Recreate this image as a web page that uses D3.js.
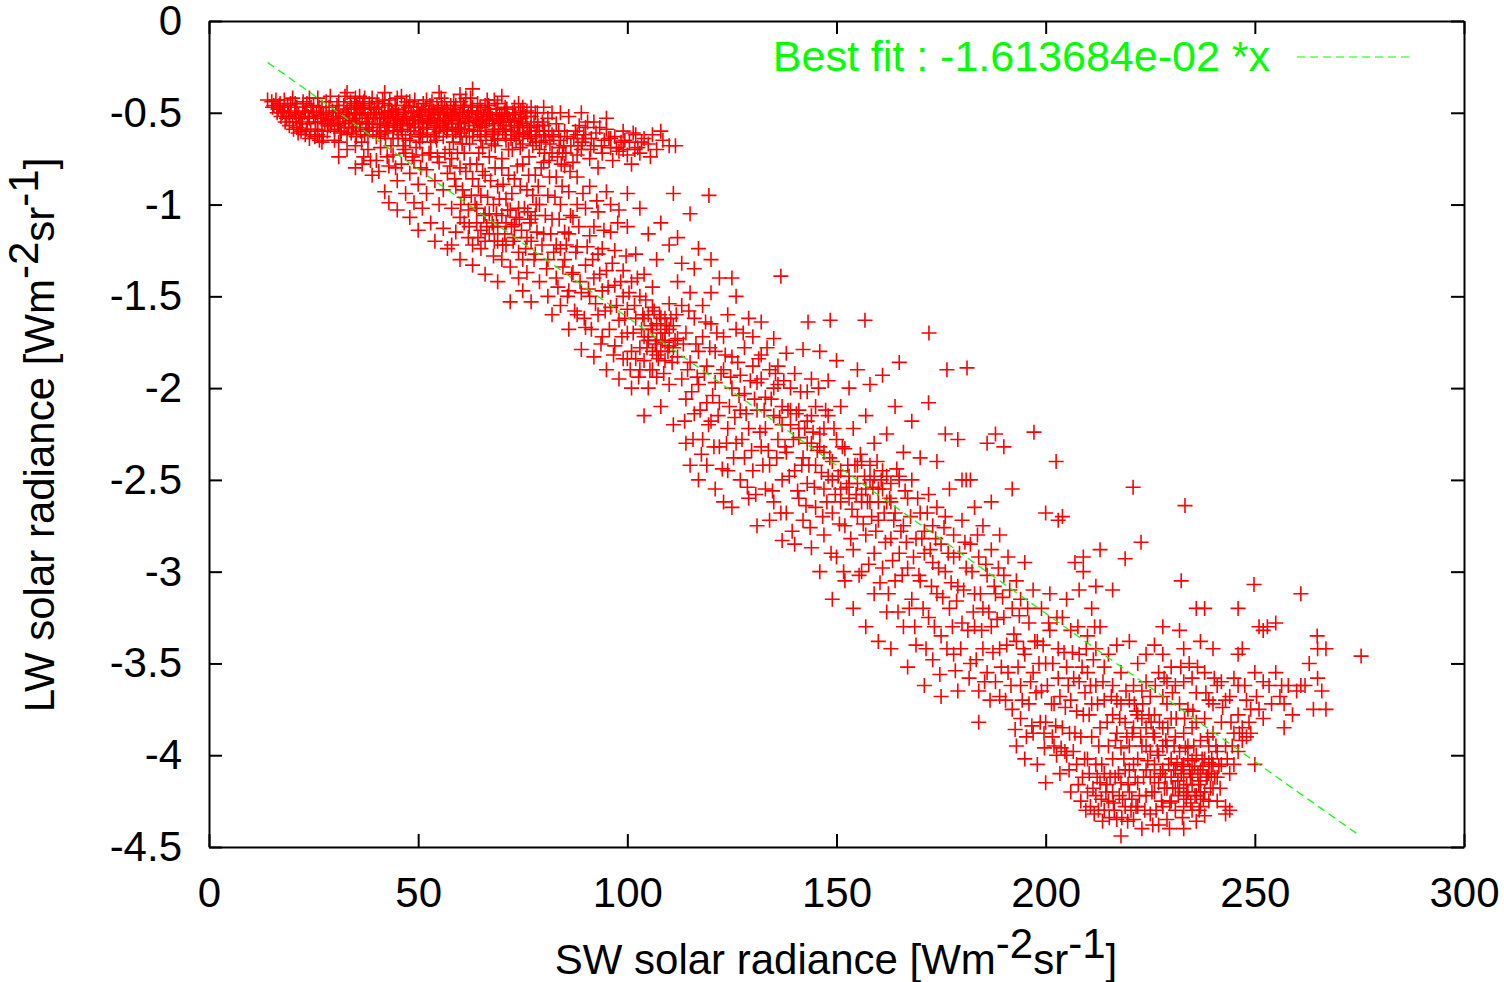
<!DOCTYPE html>
<html>
<head>
<meta charset="utf-8">
<script src="https://d3js.org/d3.v7.min.js"></script>
<style>
  html, body { margin: 0; padding: 0; background: #fff; }
  svg { display: block; }
  text { font-family: "Liberation Sans", Arial, sans-serif; }
</style>
</head>
<body>
<svg id="chart"></svg>
<script>
// tick labels
const xTicks = [0, 50, 100, 150, 200, 250, 300];
const yTicks = [0, -0.5, -1, -1.5, -2, -2.5, -3, -3.5, -4, -4.5];

// fit line
const fitSlope = -1.613684e-02;
const fitRange = [14, 275];
const fitLabel = "Best fit : -1.613684e-02 *x";

// points, [SW, LW]
// the solid wedge top left
const wedge = [
[14,-.43],[15,-.44],[15.5,-.46],[16,-.43],[16.5,-.48],[17,-.45],[17.5,-.5],[18,-.43],[18,-.47],[18.5,-.53],[19,-.5],[19.5,-.45],[20,-.55],[20,-.42],[20.5,-.5],[21,-.58],[21,-.47],[22,-.53],[22,-.6],[22.5,-.44],[23,-.62],[23,-.49],[23.5,-.56],[24,-.64],[24,-.42],[25,-.46],[25,-.52],[25.5,-.59],[26,-.62],[26,-.42],
[27,-.47],[28,-.44],[28.5,-.54],[29,-.41],[29.5,-.49],[30,-.59],[30,-.65],[31,-.44],[32,-.52],[32.5,-.41],[33,-.39],[33,-.62],[34,-.47],[34.5,-.56],[35,-.42],[36,-.5],[36.5,-.66],[37,-.44],[37.5,-.59],[38,-.53],[39,-.42],[39.5,-.48],[40,-.63],[41,-.56],[41.5,-.43],[42,-.51],[43,-.46],[43.5,-.68],[44,-.6],[45,-.42],
[45,-.54],[46,-.41],[46.5,-.49],[47,-.64],[47.5,-.57],[48,-.44],[49,-.52],[49.5,-.69],[50,-.47],[50.5,-.61],[51,-.55],[52,-.43],[52.5,-.5],[53,-.66],[54,-.58],[54.5,-.46],[55,-.53],[55.5,-.42],[56,-.63],[57,-.49],[57.5,-.7],[58,-.56],[58.5,-.44],[59,-.6],[60,-.51],[60.5,-.67],[61,-.47],[62,-.55],[62.5,-.42],[63,-.37],
[63,-.63],[64,-.5],[64.5,-.72],[65,-.58],[66,-.46],[66.5,-.43],[67,-.54],[67.5,-.67],[68,-.61],[69,-.45],[69.5,-.51],[70,-.75],[70.5,-.57],[71,-.65],[73,-.47],[72.5,-.7],[73,-.54],[74,-.61],[74.5,-.49],[75,-.67],[76,-.57],[76.5,-.74],[77,-.52],[78,-.63],[78.5,-.5],[79,-.7],[80,-.57],[80.5,-.65],[81,-.53],[82,-.72],
[26,-.55],[27,-.6],[28,-.5],[31,-.56],[33,-.48],[35,-.58],[38,-.62],[40,-.5],[42,-.61],[44,-.5],[46,-.59],[48,-.65],[51,-.63],[53,-.54],[56,-.5],[59,-.46],[61,-.59],[64,-.54],[67,-.48],[70,-.52],[73,-.62],[75,-.56],[77,-.62],[31,-.49],[35,-.51],[39,-.56],[43,-.57],[47,-.5],[49,-.58],[52,-.59],[55,-.6],[58,-.52],[60,-.63],[65,-.49],[68,-.56],[71,-.59],[79,-.6],[37,-.48],[41,-.62],[45,-.6],[50,-.54],[54,-.5],[57,-.59],[62,-.5],[66,-.6],[69,-.64],[72,-.55],
[24,-.53],[27,-.53],[29,-.57],[34,-.61],[36,-.56],[42,-.45],[48,-.56],[44,-.64],[56,-.56],[60,-.56],[63,-.47],[65,-.65],[74,-.55],[77,-.58],[80,-.62]
];

// more passes over the wedge, it has to close up solid
const wedgeFill = [
[15.2,-.47],[16.3,-.5],[17.2,-.52],[18.2,-.55],[19.2,-.57],[20.2,-.59],[21.3,-.61],[22.3,-.56],[23.3,-.59],[24.3,-.6],[25.3,-.63],[26.4,-.65],[27.3,-.63],[28.3,-.6],[19.3,-.52],[20.8,-.53],[21.7,-.55],[22.8,-.5],[23.7,-.52],[24.7,-.49],[25.7,-.5],[26.7,-.51],[27.7,-.56],[28.7,-.47],[29.7,-.52],[30.6,-.53],[31.6,-.6],[32.6,-.55],[33.6,-.53],[34.7,-.5],
[35.6,-.47],[36.6,-.53],[37.7,-.55],[38.6,-.5],[39.7,-.53],[40.6,-.47],[41.7,-.53],[42.6,-.55],[43.7,-.49],[44.6,-.53],[45.7,-.57],[46.6,-.52],[47.7,-.47],[48.6,-.54],[49.7,-.49],[50.6,-.52],[51.7,-.48],[52.6,-.53],[53.7,-.49],[54.6,-.55],[55.7,-.47],[56.6,-.54],[57.7,-.51],[58.6,-.48],[59.7,-.54],[60.6,-.49],[61.7,-.52],[62.6,-.46],[63.7,-.53],[64.6,-.56],
[65.7,-.52],[66.6,-.5],[67.7,-.53],[68.6,-.48],[69.7,-.55],[70.6,-.5],[71.7,-.53],[72.6,-.5],[73.7,-.58],[74.6,-.53],[75.7,-.52],[76.6,-.6],[77.7,-.55],[78.6,-.57],[79.7,-.55],[30.6,-.46],[32.2,-.46],[33.8,-.44],[35.3,-.46],[37.2,-.42],[38.3,-.45],[40.2,-.44],[43.2,-.43],[44.5,-.46],[47.2,-.44],[49.2,-.43],[51.2,-.45],[53.3,-.44],[56.3,-.44],[57.8,-.46],
[60.2,-.44],[61.4,-.42],[64.2,-.45],[68.2,-.43],[71.2,-.48],[31.4,-.61],[33.4,-.58],[35.2,-.63],[37.2,-.62],[39.2,-.6],[40.8,-.6],[42.8,-.6],[45.2,-.64],[46.2,-.62],[48.2,-.6],[50.2,-.58],[52.2,-.62],[53.8,-.61],[55.2,-.57],[56.8,-.6],[58.2,-.62],[59.5,-.58],[61.5,-.63],[63.2,-.6],[64.8,-.62],[66.2,-.57],[67.8,-.62],[69.2,-.59],[70.8,-.62],[72.2,-.6],
[73.4,-.65],[75.2,-.61],[76.8,-.64],[78.2,-.6],[79.4,-.66],[81.2,-.6],[82.4,-.63],[83.6,-.6],[84.8,-.68],[81.5,-.67],[46.4,-.68],[50.4,-.66],[54.4,-.65],[58.4,-.66],[62.3,-.67],[65.4,-.69],[68.4,-.68],[71.6,-.7],[74.4,-.69],[77.4,-.68],[80.2,-.72],[83.3,-.74],[85.3,-.72],[87.2,-.64],[89.2,-.66],
[16.8,-.46],[17.8,-.49],[18.8,-.46],[19.6,-.49],[20.6,-.45],[21.4,-.51],[22.4,-.47],[23.4,-.45],[24.4,-.47],[25.4,-.55],[26.3,-.47],[27.4,-.51],[28.4,-.57],[29.3,-.55],[30.3,-.5],[31.3,-.53],[32.3,-.58],[33.3,-.51],[34.3,-.54],[35.3,-.55],[36.3,-.48],[37.3,-.51],[38.3,-.58],[39.3,-.51],[40.3,-.56],[41.3,-.5],[42.3,-.57],[43.3,-.52],[44.3,-.56],[45.3,-.51],
[46.3,-.55],[47.3,-.53],[48.3,-.5],[49.3,-.56],[50.3,-.51],[51.3,-.58],[52.3,-.55],[53.3,-.51],[54.3,-.57],[55.3,-.51],[56.3,-.53],[57.3,-.55],[58.3,-.5],[59.3,-.53],[60.3,-.59],[61.3,-.55],[62.3,-.53],[63.3,-.57],[64.3,-.51],[65.3,-.55],[66.3,-.54],[67.3,-.51],[68.3,-.59],[69.3,-.54],[70.3,-.55],[71.3,-.51],[72.3,-.57],[73.3,-.51],[74.3,-.58],[75.3,-.5],
[32.8,-.5],[34.8,-.45],[36.8,-.46],[38.8,-.47],[40.8,-.53],[42.8,-.49],[44.8,-.48],[46.8,-.46],[48.8,-.47],[50.8,-.49],[52.8,-.46],[54.8,-.48],[56.8,-.48],[58.8,-.5],[60.8,-.46],[62.8,-.49],[64.8,-.47],[66.8,-.46],[68.8,-.51],[70.8,-.47],[30.8,-.57],[34.3,-.58],[36.2,-.6],[38.2,-.56],[40.2,-.58],[42.2,-.64],[44.2,-.58],[46.2,-.56],[48.2,-.62],[50.2,-.63],
[52.2,-.56],[54.2,-.63],[56.2,-.58],[58.2,-.58],[60.2,-.61],[62.2,-.59],[64.2,-.6],[66.2,-.63],[68.2,-.65],[70.2,-.6],[72.2,-.64],[74.2,-.63],[76.2,-.62],[78.2,-.66],[80.2,-.6]
];

// thin right part of the upper band
const upperTail = [
[83,-.56],[84,-.65],[84.5,-.72],[85,-.6],[86,-.52],[86.5,-.68],[87,-.77],[88,-.62],[88.5,-.57],[89,-.7],[90,-.64],[90.5,-.55],[91,-.75],[92,-.68],[92.5,-.61],[93,-.8],[94,-.72],[94.5,-.65],[95,-.59],[96,-.69],[96.5,-.76],[97,-.63],[98,-.71],[98.5,-.66],[99,-.6],[100,-.73],[100.5,-.66],[101,-.78],[102,-.62],[102.5,-.69],
[103,-.72],[104,-.64],[105,-.67],[105.5,-.74],[106,-.62],[107,-.7],[108,-.6],[110,-.68],[111.5,-.68],[108.5,-.65],[82,-.5],[80,-.47],[78,-.5],[75,-.47],[70,-.41],[76,-.49],[84,-.5],[77,-.47],[90,-.58],[92,-.55],[95,-.53],[89,-.5],[60,-.4],[55,-.39],[42,-.39],[36,-.41],[74,-.45],[88,-.73],[85,-.79],[82,-.62],
[83.7,-.69],[85.6,-.63],[87.6,-.6],[89.6,-.62],[91.4,-.64],[93.4,-.58],[95.6,-.64],[97.4,-.69],[99.4,-.65],[101.4,-.61],[103.4,-.66],[81.3,-.76],[84.2,-.78],[86.3,-.82],[88.2,-.68],[91.2,-.7],[93.8,-.68],[96,-.64],[99,-.7],[101.8,-.7]
];

// under the wedge, left part of the falling band
const lowerLeft = [
[27,-.66],[31,-.66],[31,-.74],[33,-.7],[35,-.68],[35,-.8],[37,-.74],[38,-.7],[39,-.84],[40,-.76],[41,-.69],[42,-.93],[43,-.79],[43,-.99],[44,-.73],[45,-.87],[45,-1.03],[46,-.78],[47,-.94],[47,-.72],[48,-.83],[48,-1.07],[49,-.99],[49,-.76],[50,-.89],[50,-1.14],[51,-.73],[51,-1.02],[52,-.81],[52,-.94],
[53,-1.1],[53,-.72],[54,-.87],[54,-1.2],[55,-1.0],[55,-.77],[56,-1.13],[56,-.92],[57,-.83],[57,-1.24],[58,-1.02],[58,-.75],[59,-1.15],[59,-.9],[60,-.8],[60,-1.07],[60,-1.3],[61,-.96],[61,-.72],[62,-1.18],[62,-1.03],[63,-.86],[63,-1.33],[64,-1.1],[64,-.78],[65,-.95],[65,-1.24],[66,-1.05],[66,-1.38],[66,-.84],
[67,-1.16],[67,-.74],[68,-1.0],[68,-1.28],[69,-.9],[69,-1.12],[69,-1.42],[70,-1.06],[70,-.8],[71,-1.22],[71,-.97],[72,-1.34],[72,-1.53],[73,-.86],[73,-1.11],[74,-1.26],[74,-1.02],[75,-1.47],[75,-.78],[76,-1.18],[76,-.92],[76,-1.37],[77,-1.08],[77,-1.53],[78,-1.27],[78,-.84],[79,-1.0],[79,-1.42],[80,-1.16],[80,-.77],
[64,-1.02],[65,-1.14],[67,-1.05],[69,-1.2],[71,-1.1],[73,-1.18],[61,-1.1],[63,-1.22],[75,-1.3],[58,-1.22],[70,-1.3],[72,-1.03],[74,-1.4],[77,-1.2],[68,-1.12],[66,-1.2],[81,-1.5],[81,-1.3],[81,-.95],[82,-1.08],[82,-1.6],[83,-1.4],[83,-1.22],[83,-.85],[84,-1.55],[84,-1.0],[85,-1.3],[85,-1.15],[86,-1.47],[86,-1.68],
[86,-.93],[87,-1.37],[87,-1.07],[88,-1.6],[88,-1.23],[88,-.85],[89,-1.48],[89,-1.79],[90,-1.33],[90,-1.02],[90,-1.67],[91,-1.17],[91,-1.5],[91,-.9],[92,-1.83],[92,-1.4],[93,-1.27],[93,-1.6],[93,-1.04],[94,-1.72],[94,-1.47],[95,-1.9],[95,-1.36],[95,-.93],[96,-1.56],[96,-1.15],[97,-1.77],[97,-1.44],[97,-1.25],[98,-1.63],
[98,-1.03],[98,-1.95],[99,-1.5],[99,-1.36],[99,-1.84],[100,-.94],[100,-1.7],[100,-1.57],[100,-1.12],[101,-1.42],[101,-2.0],[101,-1.8],[102,-1.62],[102,-1.27],[103,-1.5],[103,-1.9],[103,-1.02],[104,-1.72],[104,-1.38],[104,-2.15],[105,-1.6],[105,-2.0],[105,-1.16],[106,-1.8],[106,-1.68],[106,-1.45],[107,-1.94],[107,-1.3],[107,-1.74],[108,-1.62],
[108,-2.1],[108,-1.1],[109,-1.85],[109,-1.7],[110,-1.54],[110,-1.77],[110,-1.98],[110,-1.22],[111,-1.66],[111,-2.2],[112,-1.83],[112,-1.42],[112,-1.73],[94,-1.24],[92,-1.12],[96,-1.0],[86,-1.16],[88,-1.0],[78,-1.06],[84,-1.24],[109,-1.62],[107,-1.65],[105,-1.74],[104,-1.85],[106,-1.9],[108,-1.8],[103,-1.78],[110,-1.68],[102,-1.84],[100,-1.84]
];

// the crowded part between SW 55 and 100
const lowerLeftFill = [
[56.4,-.72],[57.6,-.79],[58.7,-.86],[59.4,-.72],[60.6,-.92],[61.4,-.82],[62.4,-.78],[62.7,-.95],[63.6,-1.0],[64.4,-.9],[65.4,-.82],[65.7,-1.06],[66.6,-.96],[67.3,-.87],[67.7,-1.1],[68.4,-.8],[68.7,-1.05],[69.4,-.97],[70.3,-.89],[70.7,-1.16],[71.4,-1.03],[71.6,-.84],[72.4,-.94],[72.7,-1.2],[73.4,-1.07],[73.7,-.79],[74.4,-.9],[74.7,-1.14],[75.4,-1.02],[75.7,-1.24],
[76.4,-.84],[76.7,-1.1],[77.4,-.95],[77.7,-1.3],[78.4,-1.15],[78.7,-.9],[79.4,-.8],[79.6,-1.22],[80.4,-1.06],[80.7,-1.35],[81.4,-.85],[81.7,-1.16],[82.4,-1.26],[82.7,-.96],[83.4,-1.45],[83.7,-1.08],[84.4,-.9],[84.6,-1.34],[85.4,-1.22],[85.7,-1.5],[86.4,-1.06],[86.7,-1.38],[87.4,-1.58],[87.7,-1.26],[88.4,-1.12],[88.7,-1.42],[89.4,-.94],[89.7,-1.62],[90.4,-1.23],[90.7,-1.46],
[91.4,-1.68],[91.7,-1.3],[92.4,-1.54],[92.7,-.98],[93.4,-1.38],[93.7,-1.76],[94.4,-1.14],[94.7,-1.58],[95.4,-1.45],[95.7,-1.68],[96.4,-1.32],[96.7,-1.82],[97.4,-1.55],[97.7,-1.1],[98.4,-1.42],[98.7,-1.72],[99.4,-1.62],[99.7,-1.28],[100.4,-1.48],[100.7,-1.9],[101.4,-1.7],[101.7,-1.55],[102.4,-1.4],[102.7,-1.94],[103.4,-1.68],[103.7,-1.6],[104.4,-1.52],[104.7,-1.78],[105.4,-1.9],[105.7,-1.66],
[106.4,-1.58],[106.7,-1.76],[107.4,-1.84],[107.7,-1.6],[108.4,-1.74],[108.7,-1.92],[109.4,-1.66],[109.7,-1.8],[110.4,-1.62],[110.7,-1.86],[111.4,-1.74],[111.7,-1.6],[60.2,-1.0],[62.2,-1.12],[64.3,-1.18],[66.4,-1.12],[68.2,-1.2],[70.2,-1.22],[72.3,-1.12],[74.2,-1.08],[76.2,-1.04],[78.2,-1.0],[42.6,-.74],[44.6,-.8],[46.6,-.7],[48.6,-.74],[50.6,-.8],[52.6,-.72],[54.6,-.74],[36.6,-.78],[38.6,-.76],[40.6,-.82]
];

// main band through the middle
const midBand = [
[111,-.94],[115,-1.05],[119.5,-.95],[117,-1.24],[120,-1.3],[125,-1.4],[136.7,-1.39],[112,-1.18],[113,-1.32],[113,-1.55],[113,-1.95],[114,-1.7],[114,-2.06],[114,-2.3],[115,-1.48],[115,-1.86],[115,-2.42],[116,-1.62],[116,-2.14],[116,-1.35],[117,-1.8],[117,-1.98],[117,-2.5],[118,-1.55],[118,-2.28],[118,-1.72],[119,-2.08],[119,-1.88],[119,-2.42],[120,-1.48],
[120,-1.65],[120,-2.18],[121,-1.97],[121,-1.8],[121,-2.55],[122,-1.4],[122,-2.32],[122,-2.08],[123,-1.72],[123,-1.9],[123,-2.62],[124,-2.22],[124,-1.6],[124,-2.45],[125,-2.0],[125,-1.83],[125,-2.65],[126,-2.3],[126,-1.5],[126,-1.68],[127,-2.12],[127,-1.93],[127,-2.5],[128,-1.78],[128,-2.38],[128,-2.03],[129,-1.62],[129,-2.22],[129,-2.6],[130,-1.88],
[130,-1.72],[130,-2.45],[131,-2.12],[131,-1.97],[131,-2.75],[132,-2.32],[132,-1.64],[132,-1.82],[133,-2.55],[133,-2.05],[133,-2.22],[134,-1.9],[134,-2.42],[134,-2.72],[135,-1.73],[135,-2.15],[135,-2.62],[136,-2.28],[136,-1.98],[136,-1.88],[137,-2.5],[137,-2.1],[137,-2.83],[138,-1.81],[138,-2.35],[138,-2.68],[139,-2.2],[139,-2.0],[140,-2.45],[140,-1.92],
[140,-2.85],[141,-2.27],[141,-2.12],[141,-2.6],[142,-1.79],[142,-2.38],[142,-2.72],[143,-2.02],[143,-2.18],[143,-2.52],[143.2,-1.64],[144,-2.3],[144,-2.87],[144,-1.95],[145,-2.42],[145,-2.1],[145,-2.65],[146,-1.8],[146,-2.25],[146,-3.0],[147,-2.55],[147,-2.35],[147,-2.8],[148,-2.15],[148,-2.48],[148,-1.96],[148.5,-1.63],[149,-2.68],[149,-2.4],[149,-3.15],
[150,-2.28],[150,-2.92],[150,-1.85],[151,-2.55],[151,-2.45],[151,-2.1],[152,-2.75],[152,-3.05],[152,-2.33],[153,-2.6],[153,-2.0],[153,-2.48],[154,-2.88],[154,-2.22],[154,-3.2],[155,-2.52],[155,-2.7],[155,-1.9],[156,-2.4],[156,-3.0],[156,-2.58],[156.8,-1.63],[157,-2.8],[157,-2.15],[157,-3.3],[158,-2.5],[158,-2.62],[158,-1.98],[159,-2.9],[159,-2.3],
[159,-3.12],[160,-2.55],[160,-2.72],[160,-3.38],[161,-2.45],[161,-1.93],[161,-2.98],[162,-2.62],[162,-2.25],[162,-3.22],[163,-2.82],[163,-2.52],[163,-3.42],[164,-2.68],[164,-2.1],[164,-3.05],[165,-1.86],[165,-2.5],[165,-2.9],[166,-2.75],[166,-3.3],[166,-2.35],[167,-2.6],[167,-3.52],[167,-2.98],[168,-2.5],[168,-2.18],[168,-3.15],[169,-2.82],[169,-3.4],
[170,-2.68],[170,-2.38],[170,-3.05],[171,-2.9],[171,-3.62],[172.1,-1.7],[172,-2.08],[172,-2.58],[172,-3.25],[173,-2.75],[173,-3.48],[173,-2.95],[174,-2.4],[174,-3.12],[174,-2.65],[175,-2.85],[175,-3.35],[175,-3.68],[176.4,-1.9],[176,-2.25],[176,-3.0],[176,-2.7],[177,-3.2],[177,-2.55],[178,-2.92],[178,-3.45],[178,-2.8],[179,-3.65],[179,-2.28],[179,-3.08],
[180,-2.5],[180,-2.72],[180,-3.28],[181.2,-1.89],[181,-2.5],[181,-2.98],[182,-3.5],[182,-2.85],[182,-2.5],[183,-3.12],[183,-3.3],[183,-2.65],[184,-3.65],[184,-2.92],[184,-3.82],[185,-3.42],[185,-2.75],[185,-3.2],[186,-2.3],[186,-3.02],[186,-3.55],[187,-2.62],[187,-3.3],[187,-2.88],[188,-3.6],[188,-3.12],[188,-2.25],[189,-2.8],[189,-3.42],[189,-3.68],
[190,-2.32],[190,-3.02],[190,-3.25],[191,-3.55],[191,-2.92],[192,-3.75],[192,-3.2],[192,-2.55],[193,-3.38],[193,-3.05],[193,-3.95],[194,-3.62],[194,-3.8],[194,-3.15],[195,-3.45],[195,-2.95],[195,-4.02],[196,-3.28],[196,-3.72],[197,-3.55],[197,-3.1],[197.2,-2.24],[197,-3.88],[198,-3.38],[198,-4.05],[199,-3.2],[199,-3.65],[200,-3.5],[200,-3.82],[200,-2.68],
[200,-4.15],[201,-3.32],[201,-3.12],[202.5,-2.4],[202,-3.72],[202,-3.95],[203,-3.42],[203,-3.58],[203,-2.72],[204,-3.25],[204,-3.85],[204,-2.7],[205,-4.0],[205,-3.52],[205,-3.15],[206,-3.7],[206,-4.2],[206,-3.32],[207,-3.88],[207,-2.95],[208,-3.45],[208,-3.6],[208,-3.1],[209,-3.78],[209,-2.92],[210,-4.02],[210,-3.35],[210,-3.55],[211,-3.2],[211,-3.72],
// the darker knots along the fit line
[105,-1.72],[107,-1.82],[109,-1.75],[111,-1.78],[104,-1.62],[106,-1.56],[108,-1.7],[132,-1.95],[135,-2.0],[137,-2.2],[139,-2.12],[141,-2.22],[143,-2.3],[144,-2.15],[146,-2.32],[147,-2.22],[149,-2.5],[151,-2.62],[153,-2.52],[155,-2.42],[157,-2.55],[159,-2.48],[161,-2.55],[163,-2.62],[165,-2.48],[156,-2.62],[158,-2.42],[160,-2.62],[162,-2.48],[171,-2.78]
];

const midBandFill = [
[113.4,-1.76],[113.7,-2.18],[114.4,-1.9],[114.7,-1.58],[115.4,-2.02],[115.7,-2.28],[116.4,-1.76],[116.7,-1.94],[117.4,-2.12],[117.7,-2.36],[118.4,-1.92],[118.7,-1.64],[119.4,-2.2],[119.7,-1.78],[120.4,-2.04],[120.7,-2.32],[121.4,-1.7],[121.7,-2.15],[122.4,-1.92],[122.7,-2.44],[123.4,-1.82],[123.7,-2.3],[124.4,-2.1],[124.7,-1.94],[125.4,-2.38],[125.7,-2.16],[126.4,-1.86],[126.7,-2.04],[127.4,-2.28],[127.7,-1.7],
[128.4,-2.14],[128.7,-2.54],[129.4,-1.96],[129.7,-2.34],[130.4,-2.06],[130.7,-2.58],[131.4,-1.84],[131.7,-2.24],[132.4,-2.42],[132.7,-2.12],[133.4,-1.78],[133.7,-2.34],[134.4,-2.06],[134.7,-2.56],[135.4,-1.92],[135.7,-2.38],[136.4,-2.16],[136.7,-2.68],[137.4,-1.96],[137.7,-2.32],[138.4,-2.12],[138.7,-2.48],[139.4,-2.78],[139.7,-2.28],[140.4,-2.14],[140.7,-2.56],[141.4,-2.02],[141.7,-2.42],[142.4,-2.22],[142.7,-2.64],
[143.4,-2.42],[143.7,-2.76],[144.4,-2.24],[144.7,-2.54],[145.4,-2.34],[145.7,-2.0],[146.4,-2.46],[146.7,-2.7],[147.4,-2.12],[147.7,-2.62],[148.4,-2.38],[148.7,-2.9],[149.4,-2.22],[149.7,-2.58],[150.4,-2.48],[150.7,-2.74],[151.4,-2.32],[151.7,-3.0],[152.4,-2.54],[152.7,-2.42],[153.4,-2.82],[153.7,-2.66],[154.4,-2.42],[154.7,-2.58],[155.4,-3.02],[155.7,-2.36],[156.4,-2.74],[156.7,-2.48],[157.4,-2.62],[157.7,-2.96],
[158.4,-2.7],[158.7,-2.54],[159.4,-2.78],[159.7,-2.4],[160.4,-3.06],[160.7,-2.5],[161.4,-2.68],[161.7,-2.84],[162.4,-3.12],[162.7,-2.6],[163.4,-2.94],[163.7,-2.72],[164.4,-2.44],[164.7,-3.22],[165.4,-2.78],[165.7,-3.02],[166.4,-2.56],[166.7,-2.84],[167.4,-3.2],[167.7,-2.7],[168.4,-2.92],[168.7,-3.3],[169.4,-2.6],[169.7,-3.02],[170.4,-2.82],[170.7,-3.2],[171.4,-3.42],[171.7,-2.68],[172.4,-2.88],[172.7,-3.08],
[173.4,-3.3],[173.7,-2.82],[174.4,-2.98],[174.7,-3.56],[175.4,-3.14],[175.7,-2.76],[176.4,-3.42],[176.7,-2.9],[177.4,-3.06],[177.7,-3.3],[178.4,-3.54],[178.7,-3.16],[179.4,-2.9],[179.7,-3.42],[180.4,-3.1],[180.7,-2.84],[181.4,-3.32],[181.7,-3.58],[182.4,-3.0],[182.7,-3.22],[183.4,-3.48],[183.7,-2.8],[184.4,-3.12],[184.7,-3.32],[185.4,-3.6],[185.7,-2.96],[186.4,-3.22],[186.7,-3.7],[187.4,-3.44],[187.7,-3.08],
[188.4,-3.26],[188.7,-2.98],[189.4,-3.52],[189.7,-3.14],[190.4,-3.7],[190.7,-3.4],[191.4,-3.1],[191.7,-3.62],[192.4,-3.34],[192.7,-3.86],[193.4,-3.52],[193.7,-3.24],[194.4,-3.7],[194.7,-3.42],[195.4,-3.9],[195.7,-3.2],[196.4,-3.6],[196.7,-3.84],[197.4,-3.38],[197.7,-3.66],[198.4,-3.5],[198.7,-3.82],[199.4,-3.4],[199.7,-3.96],[200.4,-3.62],[200.7,-3.28],[201.4,-3.72],[201.7,-3.5],[202.4,-3.84],[202.7,-3.25],
[203.4,-3.68],[203.7,-3.96],[204.4,-3.44],[204.7,-3.74],[205.4,-3.62],[205.7,-3.88],[206.4,-3.44],[206.7,-3.58],[207.4,-3.76],[207.7,-3.3],[208.4,-3.9],[208.7,-3.52],[209.4,-3.66],[209.7,-3.42],[210.4,-3.78],[210.7,-3.62],[211.4,-3.48],[211.7,-3.3]
];

// lower right cloud and its right wing
const lowerCloud = [
[212,-3.42],[212,-3.62],[213,-3.3],[213,-3.85],[214,-3.7],[214,-4.1],[214,-3.52],[215,-3.95],[215,-3.45],[215,-4.25],[216,-3.78],[216,-3.62],[216,-4.02],[217,-4.35],[217,-3.88],[217,-3.7],[218,-4.15],[218,-3.55],[218,-3.96],[218,-4.44],[219,-4.28],[219,-3.82],[219,-4.08],[220,-3.7],[220,-3.95],[220,-4.2],[220,-3.38],[221,-4.35],[221,-4.05],[221,-3.85],
[222,-3.5],[222,-4.15],[222,-3.78],[222,-4.28],[223,-3.95],[223,-4.4],[223,-3.65],[224,-4.08],[224,-3.85],[224,-4.22],[224,-3.45],[225,-3.98],[225,-4.32],[225,-4.12],[226,-3.78],[226,-3.9],[226,-4.2],[226,-4.05],[227,-3.55],[227,-4.38],[227,-4.0],[227,-4.15],[228,-3.85],[228,-4.28],[228,-4.08],[228,-3.68],[229,-3.95],[229,-4.18],[229,-4.35],[230,-3.8],
[230,-4.02],[230,-4.12],[230,-4.25],[231,-3.9],[231,-3.62],[231,-4.08],[231,-4.3],[232,-3.98],[232,-4.18],[232,-3.72],[233,-4.05],[233,-4.12],[233,-4.28],[233,-3.88],[233,-4.4],[234,-3.95],[234,-4.2],[234,-3.75],[234,-4.02],[235,-4.1],[235,-4.3],[235,-3.85],[235,-4.16],[236,-4.0],[236,-4.22],[236,-4.36],[236,-3.66],[237,-4.08],[237,-3.92],[237,-4.14],
[237,-4.28],[238,-4.02],[238,-4.2],[238,-3.8],[238,-4.33],[239,-4.1],[239,-3.95],[239,-4.25],[240,-4.05],[240,-4.18],[240,-3.72],[240,-3.88],[241,-4.12],[241,-3.98],[241,-4.25],[242,-4.05],[242,-3.82],[243,-3.95],[243,-4.32],[243,-4.28],[244,-3.68],[244,-4.1],[244,-4.3],[245,-3.88],[245,-4.05],[245,-3.58],[246,-3.78],[246,-3.98],[246,-3.45],[247,-3.85],
[247,-3.92],[247,-3.42],[248,-3.9],[248,-3.7],[249,-3.88],[249,-3.75],[250,-4.05],[250,-3.55],[251,-3.3],[251,-3.75],[252,-3.6],[252,-3.32],[253,-3.3],[254,-3.72],[255,-3.55],[255,-3.28],[256,-3.68],[257,-3.85],[257,-3.72],[258,-3.62],[259,-3.78],[260,-3.65],[261,-3.62],[262,-3.62],[263,-3.5],[264,-3.75],[265,-3.58],[265,-3.42],[266,-3.65],[267,-3.42],
[267,-3.75],[264.9,-3.35],[275.4,-3.46],[261,-3.12],[249.8,-3.07],[232.4,-3.05],[246,-3.2],[236,-3.2],[238,-3.2],[240,-3.42],[233,-3.42],[229,-3.6],[237,-3.38],[241,-3.62],[235,-3.58],[228,-3.45],[232,-3.32],[224,-3.6],[220.9,-2.54],[233.3,-2.64],[222.8,-2.84],[219,-2.93],[212,-3.08],[216,-3.1],[213,-2.88],[209,-3.0],[228,-3.3],[243,-3.7],[239,-3.7],[230,-3.52],
[226,-3.4],[221,-3.62],[225,-3.68],[218,-3.72],[217,-3.4],[223,-3.8],[229,-3.72],[233,-3.6],[236,-3.82],[242,-3.6],[238,-3.55],[246,-3.62],[252,-3.8],[211,-3.9],[212,-4.05],[213,-4.15],[212,-4.22],[210,-4.2],[214,-4.3],[216,-4.2],[220,-4.08],[222,-4.02],[224,-3.95],[226,-4.12],[228,-3.95],[231,-4.18],[233,-4.2],[235,-4.03],[237,-4.2],[239,-4.04]
];

// second pass, densest around SW 225-240, LW -4 to -4.3
const lowerCloudFill = [
[212.4,-3.72],[212.7,-3.95],[213.4,-4.05],[213.7,-3.6],[214.4,-4.2],[214.7,-3.82],[215.4,-4.12],[215.7,-3.68],[216.4,-4.3],[216.7,-3.92],[217.4,-4.1],[217.7,-3.8],[218.4,-4.24],[218.7,-4.02],[219.4,-3.9],[219.7,-4.16],[220.4,-4.3],[220.7,-3.88],[221.4,-4.12],[221.7,-3.76],[222.4,-4.22],[222.7,-3.9],[223.4,-4.12],[223.7,-4.3],[224.4,-4.03],[224.7,-3.78],[225.4,-4.2],[225.7,-3.88],[226.4,-4.3],[226.7,-3.98],
[227.4,-4.1],[227.7,-4.25],[228.4,-4.18],[228.7,-3.92],[229.4,-4.05],[229.7,-4.26],[230.4,-4.18],[230.7,-3.95],[231.4,-4.04],[231.7,-4.22],[232.4,-4.1],[232.7,-4.34],[233.4,-3.96],[233.7,-4.16],[234.4,-4.08],[234.7,-4.26],[235.4,-3.95],[235.7,-4.22],[236.4,-4.1],[236.7,-4.3],[237.4,-4.02],[237.7,-4.24],[238.4,-4.12],[238.7,-3.9],[239.4,-4.18],[239.7,-4.02],[240.4,-4.12],[240.7,-3.95],[241.4,-4.06],[241.7,-4.18],
[227.2,-3.82],[229.2,-3.85],[231.2,-3.8],[233.2,-3.8],[235.2,-3.76],[225.2,-3.82],[223.2,-3.72],[221.2,-3.72],[219.2,-3.65],[226.2,-3.62],[228.3,-3.58],[230.3,-3.66],[232.3,-3.52],[234.3,-3.5],[236.3,-3.52],[238.3,-3.66],[240.3,-3.58],[242.3,-3.74],[244.3,-3.82],[246.3,-3.88],[247.6,-3.62],[243.4,-4.02],[244.6,-3.95],[248.6,-3.82],[250.4,-3.68],[253.4,-3.62],[256.4,-3.62],[225.6,-4.38],[229.6,-4.4],[238.6,-4.12],
[234.6,-4.12],[232.6,-4.06],[236.6,-4.16],[230.6,-4.08],[228.6,-4.12],[235.6,-4.06],[233.6,-4.24],[237.6,-4.06],[231.6,-4.14],[239.6,-4.1],
// left foot of the cloud
[207.4,-4.05],[207.8,-4.16],[208.4,-4.25],[208.8,-4.12],[209.3,-4.02],[209.6,-4.3],[210.4,-4.1],[210.7,-4.28],[211.3,-4.18],[211.6,-4.32],[212.3,-4.12],[212.6,-4.3],[213.3,-4.24],[213.6,-4.36],[214.6,-4.16],[215.2,-4.34],[216.2,-4.26],[216.6,-4.12],[217.6,-4.22],[218.2,-4.34],[219.6,-4.36],[220.6,-4.24],[221.6,-4.28],[206.6,-3.98],[205.6,-4.08],[204.6,-3.98],[203.4,-4.1],[202.6,-4.0],[201.6,-3.9],[199.6,-3.88]
];

const allPoints = wedge.concat(wedgeFill, upperTail, lowerLeft, lowerLeftFill, midBand, midBandFill, lowerCloud, lowerCloudFill);

const width = 1504, height = 982;
// plot frame
const margin = {top: 21, right: 40, bottom: 135, left: 209};

const svg = d3.select("#chart").attr("width", width).attr("height", height);

const x = d3.scaleLinear().domain([0, 300]).range([margin.left, width - margin.right]);
const y = d3.scaleLinear().domain([-4.5, 0]).range([height - margin.bottom, margin.top]);

// crosses first, line goes on top
svg.append("g").selectAll("path")
    .data(allPoints)
    .join("path")
      .attr("transform", d => "translate(" + x(d[0]) + "," + y(d[1]) + ")")
      .attr("d", "M-7.5,0H7.5M0,-7.5V7.5")
      .attr("fill", "none")
      .attr("stroke", "#ff0000")
      .attr("stroke-width", 1.6);

svg.append("line")
    .attr("x1", x(fitRange[0])).attr("y1", y(fitSlope * fitRange[0]))
    .attr("x2", x(fitRange[1])).attr("y2", y(fitSlope * fitRange[1]))
    .attr("stroke", "#00ff00")
    .attr("stroke-width", 1.2)
    .attr("stroke-dasharray", "8,5");

// axes, gnuplot puts the ticks inside on all four sides
const tickLen = 13;
const bottomAxis = svg.append("g")
    .attr("transform", "translate(0," + y(-4.5) + ")")
    .call(d3.axisBottom(x).tickValues(xTicks).tickSize(-tickLen).tickSizeOuter(0).tickPadding(30).tickFormat(d => d));
const leftAxis = svg.append("g")
    .attr("transform", "translate(" + x(0) + ",0)")
    .call(d3.axisLeft(y).tickValues(yTicks).tickSize(-tickLen).tickSizeOuter(0).tickPadding(27).tickFormat(d => d));
svg.append("g")
    .attr("transform", "translate(0," + y(0) + ")")
    .call(d3.axisTop(x).tickValues(xTicks).tickSize(-tickLen).tickSizeOuter(0).tickFormat(""));
svg.append("g")
    .attr("transform", "translate(" + x(300) + ",0)")
    .call(d3.axisRight(y).tickValues(yTicks).tickSize(-tickLen).tickSizeOuter(0).tickFormat(""));

svg.selectAll(".domain").attr("stroke", "#000").attr("stroke-width", 2);
svg.selectAll(".tick line").attr("stroke", "#000").attr("stroke-width", 2);
bottomAxis.selectAll("text").style("font-size", "42px").attr("fill", "#000");
leftAxis.selectAll("text").style("font-size", "42px").attr("fill", "#000");

// axis titles with superscripts
function addUnitTitle(sel, name) {
    sel.style("font-size", "42px").attr("fill", "#000").attr("text-anchor", "middle");
    sel.append("tspan").text(name + " [Wm");
    sel.append("tspan").attr("dy", -16).text("-2");
    sel.append("tspan").attr("dy", 16).text("sr");
    sel.append("tspan").attr("dy", -16).text("-1");
    sel.append("tspan").attr("dy", 16).text("]");
}

addUnitTitle(svg.append("text").attr("x", 836).attr("y", 974), "SW solar radiance");
addUnitTitle(svg.append("text")
    .attr("transform", "translate(54," + 435 + ") rotate(-90)"), "LW solar radiance");

// legend
svg.append("text")
    .attr("x", 1270).attr("y", 71)
    .attr("text-anchor", "end")
    .attr("fill", "#00ff00")
    .style("font-size", "43px")
    .text(fitLabel);
svg.append("line")
    .attr("x1", 1297).attr("x2", 1411).attr("y1", 57).attr("y2", 57)
    .attr("stroke", "#00ff00")
    .attr("stroke-width", 1.2)
    .attr("stroke-dasharray", "8,5");
</script>
</body>
</html>
